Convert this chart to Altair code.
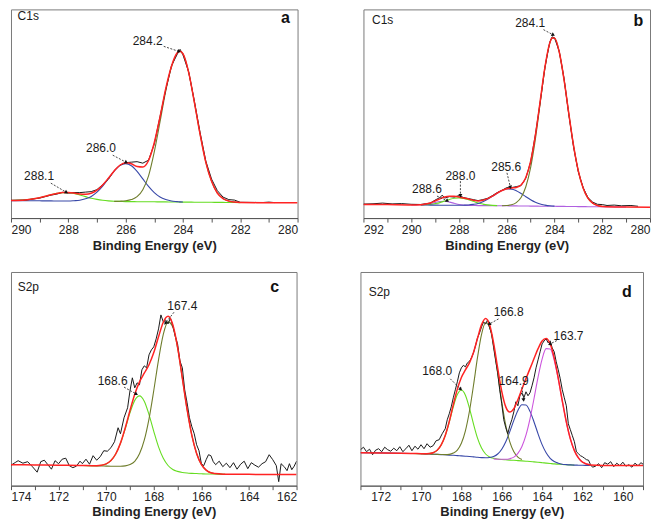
import altair as alt
import pandas as pd

FONT = "Liberation Sans"
RED = "#ff2323"
BLACK = "#1a1a1a"
LIME = "#66dd22"
OLIVE = "#6f7d2c"
BLUE = "#3848a8"
PURPLE = "#b060e0"
MAGENTA = "#cc55dd"

# ---------------- panel a : C1s ----------------
A_X = [290, 289.5, 289, 288.8, 288.6, 288.4, 288.2, 288.0, 287.8, 287.6, 287.4, 287.2, 287.0,
       286.8, 286.6, 286.4, 286.2, 286.0, 285.8, 285.6, 285.4, 285.2, 285.0, 284.8, 284.6,
       284.4, 284.2, 284.1, 284.0, 283.8, 283.6, 283.4, 283.2, 283.0, 282.8, 282.6, 282.4,
       282.2, 282.0, 281.0, 280.0]
A_RED = [17.6, 18.2, 20.4, 21.8, 23.4, 24.7, 25.5, 25.5, 25.0, 24.1, 23.9, 24.8, 27.9, 33.2,
         40.0, 47.2, 52.9, 55.3, 54.4, 51.7, 51.2, 57.7, 75.5, 101.1, 129.6, 152.1, 165.5,
         167.2, 164.6, 146.0, 115.9, 83.9, 55.8, 36.8, 25.1, 19.5, 17.0, 16.0, 15.6, 15.4, 15.3]
A_GREEN = [17.6, 18.2, 20.4, 21.8, 23.4, 24.7, 25.5, 25.4, 24.6, 23.1, 21.5, 19.9, 18.7, 17.8,
           17.2, 16.8, 16.7, 16.5, 16.5, 16.4, 16.4, 16.3, 16.3, 16.2, 16.2, 16.1, 16.1, 16.0,
           16.0, 16.0, 15.9, 15.9, 15.8, 15.8, 15.7, 15.7, 15.6, 15.6, 15.5, None, None]
A_BLUE = [17.5, 17.4, 17.3, 17.2, 17.2, 17.1, 17.1, 17.1, 17.4, 17.9, 19.3, 21.7, 26.0, 32.1,
          39.5, 46.9, 52.5, 54.5, 52.4, 46.7, 39.2, 31.7, 25.5, 21.1, 18.6, 17.1, 16.5, 16.2,
          16.1, None, None, None, None, None, None, None, None, None, None, None, None]
A_OLIVE = [None] * 15 + [16.7, 16.9, 17.3, 18.5, 21.4, 28.4, 42.3, 66.3, 96.2, 127.2, 151.1,
                         165.1, 167.0, 164.5, 146.0, 115.9, 83.9, 55.8, 36.8, 25.1, 19.5,
                         17.0, 16.0, 15.6, None, None]
A_DATA_X = [290, 289.5, 289, 288.8, 288.6, 288.4, 288.2, 288.0, 287.8, 287.6, 287.4, 287.2,
            287.0, 286.8, 286.6, 286.4, 286.2, 286.0, 285.8, 285.6, 285.4, 285.2, 285.0, 284.8,
            284.6, 284.4, 284.2, 284.1, 284.0, 283.8, 283.6, 283.4, 283.2, 283.0, 282.8, 282.6,
            282.4, 282.2, 282.0, 281.2, 281.0, 280.8]
A_DATA_Y = [17.8, 18.0, 20.0, 21.5, 23.0, 24.0, 25.8, 25.0, 25.6, 25.5, 26.0, 26.5, 28.5, 33.5,
            39.0, 47.5, 53.0, 55.5, 56.0, 56.5, 55.0, 58.0, 74.0, 101.5, 128.5, 152.5, 164.0,
            169.0, 163.5, 146.5, 117.0, 85.5, 57.0, 39.0, 27.5, 21.0, 18.5, 18.0, 15.8, 15.6,
            16.0, 15.5]
A_PEAK_TEXT = ["284.2", "286.0", "288.1"]
A_PEAK_TX = [285.23, 286.86, 289.02]
A_PEAK_TY = [177, 70, 42]
A_ARR_X = [284.67, 286.45, 288.61]
A_ARR_Y = [172, 63, 35]
A_ARR_X2 = [284.15, 285.99, 288.08]
A_ARR_Y2 = [167, 56, 26]
A_ARR_ANG = [108, 118, 121]

# ---------------- panel b : C1s ----------------
B_X = [292, 291, 290, 289.6, 289.4, 289.2, 289.0, 288.8, 288.6, 288.4, 288.2, 288.0, 287.8,
       287.6, 287.4, 287.2, 287.0, 286.8, 286.6, 286.4, 286.2, 286.0, 285.8, 285.6, 285.4,
       285.2, 285.0, 284.8, 284.6, 284.4, 284.2, 284.1, 284.0, 283.8, 283.6, 283.4, 283.2,
       283.0, 282.8, 282.6, 282.4, 282.2, 282.0, 281.0, 280.0]
B_RED = [13.7, 13.5, 13.2, 13.4, 14.0, 15.1, 17.1, 19.2, 21.1, 21.8, 21.8, 21.2, 20.2, 19.0,
         17.9, 17.2, 17.8, 19.5, 22.0, 25.0, 27.6, 29.4, 30.1, 30.7, 33.1, 40.7, 56.8, 82.9,
         116.9, 151.2, 175.2, 180.4, 180.4, 166.3, 138.6, 104.6, 72.4, 47.0, 30.1, 20.0, 15.0,
         12.6, 11.7, 11.1, 10.8]
B_PURPLE = [None, None, 13.2, 13.3, 13.7, 14.4, 15.6, 16.6, 16.9, 16.0, 14.8, 13.6, 13.0, 12.7,
            12.6, 12.5, 12.5, 12.5, 12.4, 12.4, 12.3, 12.3, 12.2, 12.2, 12.1, 12.1, 12.0, 12.0,
            11.9, 11.9, 11.8, 11.8, 11.8, 11.7, 11.7, 11.6, 11.6, 11.5, 11.5, 11.4, 11.4, 11.3,
            11.3, 11.1, None]
B_GREEN = [None] * 3 + [13.2, 13.4, 13.7, 14.5, 15.5, 17.1, 18.6, 19.8, 20.2, 19.7, 18.4, 16.8,
                        15.1, 14.0, 13.2, 12.7, 12.5] + [None] * 25
B_BLUE = [None] * 3 + [13.1, 13.1, 13.0, 13.0, 12.9, 12.9, 12.8, 12.8, 12.8, 12.9, 13.1, 13.7,
                       14.6, 16.3, 18.8, 21.7, 24.9, 27.5, 29.1, 29.0, 27.4, 24.6, 21.4, 18.3,
                       15.8, 14.0, 13.0, 12.3, 12.1, 12.0] + [None] * 12
B_OLIVE = [None] * 20 + [12.4, 12.6, 13.3, 15.5, 20.6, 31.4, 50.5, 79.1, 114.8, 150.1, 174.7,
                         180.1, 180.2, 166.3, 138.6, 104.6, 72.4, 47.0, 30.1, 20.0, 15.0, 12.6,
                         11.7] + [None] * 2
B_DATA_X = [292, 291.6, 291.2, 290.8, 290.4, 290, 289.6, 289.4, 289.2, 289.0, 288.8, 288.7,
            288.6, 288.4, 288.2, 288.0, 287.8, 287.6, 287.4, 287.2, 287.0, 286.8, 286.6, 286.4,
            286.2, 286.0, 285.8, 285.6, 285.4, 285.2, 285.0, 284.8, 284.6, 284.4, 284.2, 284.1,
            284.0, 283.8, 283.6, 283.4, 283.2, 283.0, 282.8, 282.6, 282.4, 282.2, 282.0, 281.8,
            281.5, 281.2, 280.8, 280.5]
B_DATA_Y = [14.0, 14.3, 15.0, 14.2, 14.5, 13.8, 13.6, 14.3, 15.0, 18.0, 20.5, 23.0, 20.0, 21.5,
            21.0, 22.5, 20.5, 19.5, 18.5, 17.5, 18.5, 19.8, 22.5, 25.5, 27.8, 30.5, 30.5, 31.5,
            32.5, 40.0, 56.0, 83.5, 116.0, 151.0, 176.0, 181.5, 180.5, 167.0, 140.0, 103.5,
            71.0, 46.0, 30.5, 20.5, 16.0, 13.8, 13.5, 12.6, 13.0, 12.3, 12.6, 11.8]
B_PEAK_TEXT = ["284.1", "285.6", "288.0", "288.6"]
B_PEAK_TX = [285.02, 286.02, 287.94, 289.34]
B_PEAK_TY = [195.3, 51, 42, 28.7]
B_ARR_X = [284.46, 285.99, 287.94, 288.92]
B_ARR_Y = [188.7, 45.3, 37, 22]
B_ARR_X2 = [284.07, 285.85, 287.94, 288.5]
B_ARR_Y2 = [183.7, 31.3, 23, 17.5]
B_ARR_ANG = [118, 168, 180, 121]

# ---------------- panel c : S2p ----------------
C_X = [174, 173, 172, 171, 170.6, 170.2, 170.0, 169.8, 169.6, 169.4, 169.2, 169.0, 168.8,
       168.6, 168.4, 168.2, 168.0, 167.8, 167.6, 167.4, 167.2, 167.0, 166.8, 166.6, 166.4,
       166.2, 166.0, 165.8, 165.6, 165.2, 165.0, 164, 163, 162]
C_RED = [21.0, 20.8, 20.5, 20.2, 19.9, 20.5, 21.8, 25.1, 31.7, 42.6, 57.8, 75.3, 91.5, 103.9,
         112.6, 121.1, 133.3, 149.1, 163.7, 169.6, 161.1, 138.8, 107.8, 76.3, 50.3, 32.2,
         21.3, 15.6, 13.0, 11.7, 11.4, 11.3, 11.2, 11.1]
C_GREEN = [None] * 3 + [20.2, 19.9, 20.5, 21.8, 25.1, 31.6, 42.3, 57.0, 72.9, 85.4, 89.9,
                        84.6, 71.2, 54.4, 38.9, 27.4, 20.2, 16.2, 14.3, 13.2, 12.6, 12.3,
                        12.1, 11.9, 11.7, 11.6, 11.5, 11.4] + [None] * 3
C_OLIVE = [None] * 3 + [20.2, 19.9, 19.7, 19.6, 19.5, 19.5, 19.5, 19.8, 21.1, 24.4, 31.9,
                        45.5, 66.9, 95.3, 126.0, 151.5, 164.0, 158.9, 138.0, 107.6, 76.3,
                        50.3, 32.2, 21.3, 15.6, 13.0, 11.7, 11.4] + [None] * 3
C_DATA_X = [174.0, 173.8, 173.7, 173.5, 173.3, 173.1, 172.9, 172.75, 172.6, 172.45, 172.3,
            172.15, 172.0, 171.85, 171.7, 171.55, 171.4, 171.25, 171.1, 171.0, 170.85, 170.7,
            170.55, 170.4, 170.25, 170.1, 169.95, 169.8, 169.65, 169.5, 169.4, 169.25, 169.1,
            169.0, 168.9, 168.8, 168.7, 168.6, 168.5, 168.4, 168.3, 168.2, 168.1, 168.0, 167.9,
            167.8, 167.7, 167.6, 167.5, 167.4, 167.3, 167.2, 167.1, 167.0, 166.9, 166.8, 166.7,
            166.6, 166.5, 166.4, 166.3, 166.2, 166.1, 166.0, 165.9, 165.8, 165.7, 165.6, 165.5,
            165.4, 165.25, 165.1, 164.95, 164.8, 164.65, 164.5, 164.35, 164.2, 164.05, 163.9,
            163.75, 163.6, 163.45, 163.3, 163.15, 163.0, 162.85, 162.75, 162.65, 162.5, 162.4,
            162.3, 162.2, 162.1, 162.0]
C_DATA_Y = [20.5, 23.5, 25.0, 22.5, 24.0, 19.0, 13.5, 24.0, 25.5, 21.0, 16.5, 25.0, 22.0,
            26.5, 27.5, 20.0, 18.0, 19.5, 24.5, 22.0, 26.5, 21.5, 30.0, 25.5, 29.0, 35.0,
            34.5, 38.0, 44.0, 58.0, 52.0, 68.0, 78.0, 95.0, 108.0, 98.0, 103.0, 101.0, 116.0,
            120.0, 118.0, 131.0, 136.0, 139.0, 147.0, 157.0, 171.0, 164.0, 166.0, 162.0, 168.0,
            160.0, 150.0, 142.0, 125.0, 118.0, 96.0, 83.0, 68.0, 59.0, 52.0, 41.0, 35.0, 22.0,
            20.0, 26.0, 31.0, 30.0, 24.0, 21.0, 24.5, 19.0, 22.5, 18.0, 23.0, 16.5, 21.5, 24.5,
            17.0, 23.0, 20.5, 18.5, 22.0, 24.0, 31.0, 26.0, 20.0, 4.0, 22.0, 18.5, 15.0, 22.0,
            16.0, 19.5, 24.5]
C_PEAK_TEXT = ["167.4", "168.6"]
C_PEAK_TX = [166.8, 169.73]
C_PEAK_TY = [180.3, 105.3]
C_ARR_X = [167.15, 169.25]
C_ARR_Y = [173.7, 98.7]
C_ARR_X2 = [167.5, 168.75]
C_ARR_Y2 = [163, 92]
C_ARR_ANG = [215, 120]

# ---------------- panel d : S2p ----------------
D_X = [173, 172, 171, 170.4, 170.0, 169.8, 169.6, 169.4, 169.2, 169.0, 168.8, 168.6, 168.4,
       168.2, 168.0, 167.8, 167.6, 167.4, 167.2, 167.0, 166.8, 166.6, 166.4, 166.2, 166.0,
       165.8, 165.6, 165.4, 165.2, 165.0, 164.8, 164.6, 164.4, 164.2, 164.0, 163.8, 163.6,
       163.4, 163.2, 163.0, 162.8, 162.6, 162.4, 162.2, 162.0, 161.6, 161.0, 160.0, 159.0]
D_RED = [33.0, 32.8, 32.5, 32.2, 32.0, 31.9, 32.2, 33.0, 35.4, 40.8, 50.3, 64.3, 81.1, 96.7,
         108.4, 116.0, 123.0, 133.3, 147.6, 161.3, 167.5, 161.1, 142.6, 117.6, 94.5, 78.9,
         73.7, 77.1, 86.1, 96.8, 107.2, 117.2, 127.3, 137.2, 144.9, 147.5, 142.0, 128.0,
         107.8, 85.0, 63.8, 46.9, 35.1, 27.8, 23.6, 20.8, 20.3, 20.2, 20.2]
D_GREEN = [None] * 3 + [32.2, 32.0, 31.9, 32.2, 33.0, 35.4, 40.7, 50.1, 63.6, 78.9, 91.2,
                        95.8, 90.6, 77.7, 61.8, 47.6, 37.6, 31.7, 28.7, 27.3, 26.6, 26.2,
                        25.9, 25.6, 25.4, 25.1, 24.8, 24.5, 24.2, 23.8, 23.4, 23.0, 22.6,
                        22.2, 21.8, 21.5, 21.2, 21.0, 20.8, 20.6] + [None] * 6
D_OLIVE = [None] * 4 + [32.0, 31.8, 31.7, 31.5, 31.3, 31.2, 31.1, 31.3, 32.6, 35.6, 42.4,
                        54.9, 74.5, 100.3, 128.4, 151.6, 163.1, 158.6, 139.7, 112.3, 84.0,
                        60.3, 43.8, 33.9, 28.6, 26.1] + [None] * 19
D_BLUE = [33.0, 32.8, 32.5, 32.2, 32.0, 31.8, 31.7, 31.5, 31.3, 31.1, 30.9, 30.6, 30.4, 30.1,
          29.8, 29.5, 29.2, 28.8, 28.4, 28.1, 27.9, 28.2, 29.2, 31.7, 36.5, 44.0, 54.1, 65.4,
          75.3, 81.0, 80.7, 74.4, 63.8, 51.9, 41.1, 32.9, 27.4, 24.2, 22.5, 21.5, 21.1, 20.8,
          20.6, 20.5, 20.4, 20.3, None, None, None]
D_MAGENTA = [None] * 22 + [26.8, 26.5, 26.4, 26.4, 27.0, 28.6, 32.4, 39.3, 50.6, 66.9, 87.3,
                           108.7, 126.8, 137.2, 136.8, 125.6, 106.8, 84.7, 63.7, 46.9, 35.1,
                           27.8, 23.6, 20.8] + [None] * 3
D_DATA_X = [173.0, 172.85, 172.7, 172.55, 172.4, 172.25, 172.1, 171.95, 171.8, 171.65, 171.5,
            171.35, 171.2, 171.05, 170.9, 170.75, 170.6, 170.45, 170.3, 170.15, 170.0, 169.85,
            169.7, 169.55, 169.4, 169.25, 169.1, 168.95,
            168.8, 168.7, 168.6, 168.5, 168.4, 168.3, 168.2, 168.1, 168.0, 167.9,
            167.8, 167.7, 167.6, 167.5, 167.4, 167.3, 167.2, 167.1, 167.0, 166.9,
            166.8, 166.7, 166.6, 166.5, 166.4, 166.3, 166.2, 166.1, 166.0, 165.9,
            165.8, 165.7, 165.6, 165.5, 165.4, 165.3, 165.2, 165.1, 165.0, 164.9,
            164.8, 164.7, 164.6, 164.5, 164.4, 164.3, 164.2, 164.1, 164.0, 163.9,
            163.8, 163.7, 163.6, 163.5, 163.4, 163.3, 163.2, 163.1, 163.0, 162.9,
            162.8, 162.7, 162.6, 162.5, 162.4, 162.3, 162.2, 162.1, 162.0, 161.9,
            161.8, 161.7, 161.6, 161.5,
            161.35, 161.2, 161.05, 160.9, 160.75, 160.6, 160.45, 160.3, 160.15, 160.0, 159.85,
            159.7, 159.55, 159.4, 159.25, 159.1, 159.0]
D_DATA_Y = [36.0, 38.5, 34.0, 36.5, 31.0, 35.5, 37.0, 34.0, 38.5, 36.0, 34.5, 37.5, 35.0, 39.0,
            34.0, 37.0, 40.5, 35.0, 39.5, 36.5, 41.0, 37.0, 42.0, 38.5, 40.0, 45.0, 46.0, 52.0,
            57.0, 66.0, 72.0, 79.0, 88.0, 96.0, 104.0, 113.0, 118.0, 120.5,
            119.0, 123.0, 124.5, 128.0, 133.0, 140.0, 148.0, 153.0, 159.0, 164.0,
            162.0, 166.0, 158.0, 152.0, 138.0, 125.0, 113.0, 96.0, 82.0, 66.0,
            58.0, 52.0, 60.0, 66.0, 74.0, 84.0, 80.0, 90.0, 93.0, 88.0,
            94.0, 90.0, 93.0, 100.0, 108.0, 118.0, 126.0, 134.0, 142.0, 145.0,
            147.0, 143.0, 145.0, 138.0, 134.0, 124.0, 116.0, 107.0, 96.0, 88.0,
            80.0, 62.0, 56.0, 50.0, 44.0, 34.0, 32.0, 30.0, 29.0, 27.5,
            26.0, 25.5, 21.0, 18.5,
            19.5, 22.0, 18.0, 23.0, 21.5, 24.0, 19.0, 22.5, 20.0, 23.5, 19.5, 21.0, 18.5, 22.5,
            20.0, 23.0, 21.5]
D_PEAK_TEXT = ["166.8", "168.0", "164.9", "163.7"]
D_PEAK_TX = [165.66, 169.2, 165.41, 162.69]
D_PEAK_TY = [173.7, 115.3, 104.7, 150.3]
D_ARR_X = [166.16, 168.55, 165.0, 163.27]
D_ARR_Y = [167, 107, 98.7, 145.3]
D_ARR_X2 = [166.6, 168.05, 164.92, 163.6]
D_ARR_Y2 = [162, 97, 86.3, 142]
D_ARR_ANG = [241, 135, 173, 244]

# panel tags: (element label, x, y, letter, letter x, letter y)
TAGS = {
    "a": ("C1s", 289.77, 202, "a", 280.42, 200),
    "b": ("C1s", 291.64, 198.7, "b", 280.49, 197.7),
    "c": ("S2p", 173.72, 198.7, "c", 162.92, 198.7),
    "d": ("S2p", 172.59, 193.7, "d", 159.8, 193.7),
}

assert len(A_DATA_X) == len(A_DATA_Y) and len(B_DATA_X) == len(B_DATA_Y)
assert len(C_DATA_X) == len(C_DATA_Y) and len(D_DATA_X) == len(D_DATA_Y)
for xs_, lists in [(A_X, [A_RED, A_GREEN, A_BLUE, A_OLIVE]),
                   (B_X, [B_RED, B_PURPLE, B_GREEN, B_BLUE, B_OLIVE]),
                   (C_X, [C_RED, C_GREEN, C_OLIVE]),
                   (D_X, [D_RED, D_GREEN, D_OLIVE, D_BLUE, D_MAGENTA])]:
    for l in lists:
        assert len(l) == len(xs_), (len(l), len(xs_))


def panel(fit_x, comps, red, data_x, data_y, xdom, ticks, ymax, w, h,
          ptext, ptx, pty, ax, ay, ax2, ay2, aang, tag, title_pad):
    xs = alt.Scale(domain=xdom, reverse=True, nice=False, zero=False)
    ys = alt.Scale(domain=[0, ymax], nice=False, zero=False)
    axis = alt.Axis(values=ticks, labelExpr="datum.value % 2 === 0 ? datum.label : ''",
                    format="d", grid=False, tickSize=4, labelPadding=2,
                    labelFontSize=12, labelFont=FONT, labelColor="#222",
                    titleFont=FONT, titleFontSize=13, titleFontWeight="bold",
                    titleColor="#222", titlePadding=title_pad, domainColor="#555",
                    tickColor="#555", labelFlush=True, labelOverlap=False)

    def X(f):
        return alt.X(f, type="quantitative", scale=xs, axis=axis,
                     title="Binding Energy (eV)")

    def Y(f):
        return alt.Y(f, type="quantitative", scale=ys, axis=None)

    layers = []
    for ys_list, color, sw in comps:
        df = pd.DataFrame({"x": fit_x, "y": ys_list}).dropna()
        layers.append(alt.Chart(df).mark_line(color=color, strokeWidth=sw,
                                              interpolate="monotone", clip=True)
                      .encode(x=X("x"), y=Y("y"),
                              order=alt.Order("x", sort="descending")))
    ddf = pd.DataFrame({"x": data_x, "y": data_y})
    layers.append(alt.Chart(ddf).mark_line(color=BLACK, strokeWidth=1.0, clip=True)
                  .encode(x=X("x"), y=Y("y"), order=alt.Order("x", sort="descending")))
    rdf = pd.DataFrame({"x": fit_x, "y": red})
    layers.append(alt.Chart(rdf).mark_line(color=RED, strokeWidth=1.5,
                                           interpolate="monotone", clip=True)
                  .encode(x=X("x"), y=Y("y"), order=alt.Order("x", sort="descending")))
    # peak labels
    tdf = pd.DataFrame({"t": ptext, "x": ptx, "y": pty})
    layers.append(alt.Chart(tdf).mark_text(font=FONT, fontSize=12, color="#1a1a1a")
                  .encode(x=X("x"), y=Y("y"), text="t:N"))
    adf = pd.DataFrame({"x": ax, "y": ay, "x2": ax2, "y2": ay2, "ang": aang})
    layers.append(alt.Chart(adf).mark_rule(color="#333", strokeWidth=0.9, strokeDash=[2, 1.5])
                  .encode(x=X("x"), y=Y("y"), x2="x2:Q", y2="y2:Q"))
    layers.append(alt.Chart(adf).mark_point(shape="triangle", filled=True, size=16,
                                            color="#111", opacity=1)
                  .encode(x=X("x2"), y=Y("y2"), angle=alt.Angle("ang:Q", scale=None)))
    el, elx, ely, let, lx, ly = tag
    edf = pd.DataFrame({"t": [el], "x": [elx], "y": [ely]})
    layers.append(alt.Chart(edf).mark_text(font=FONT, fontSize=12, color="#1a1a1a",
                                           align="left")
                  .encode(x=X("x"), y=Y("y"), text="t:N"))
    ldf = pd.DataFrame({"t": [let], "x": [lx], "y": [ly]})
    layers.append(alt.Chart(ldf).mark_text(font=FONT, fontSize=16, fontWeight="bold",
                                           color="#111")
                  .encode(x=X("x"), y=Y("y"), text="t:N"))
    return alt.layer(*layers).properties(width=w, height=h)


pa = panel(A_X, [(A_GREEN, LIME, 1.1), (A_BLUE, BLUE, 1.1), (A_OLIVE, OLIVE, 1.1)], A_RED,
           A_DATA_X, A_DATA_Y, [280, 290], list(range(280, 291)), 209, 287, 209,
           A_PEAK_TEXT, A_PEAK_TX, A_PEAK_TY, A_ARR_X, A_ARR_Y, A_ARR_X2, A_ARR_Y2, A_ARR_ANG,
           TAGS["a"], 4)
pb = panel(B_X, [(B_PURPLE, PURPLE, 1.1), (B_GREEN, LIME, 1.1), (B_BLUE, BLUE, 1.1),
                 (B_OLIVE, OLIVE, 1.1)], B_RED,
           B_DATA_X, B_DATA_Y, [280, 292], list(range(280, 293)), 209, 287, 209,
           B_PEAK_TEXT, B_PEAK_TX, B_PEAK_TY, B_ARR_X, B_ARR_Y, B_ARR_X2, B_ARR_Y2, B_ARR_ANG,
           TAGS["b"], 4)
pc = panel(C_X, [(C_GREEN, LIME, 1.1), (C_OLIVE, OLIVE, 1.1)], C_RED,
           C_DATA_X, C_DATA_Y, [162, 174], list(range(162, 175)), 214, 286, 214,
           C_PEAK_TEXT, C_PEAK_TX, C_PEAK_TY, C_ARR_X, C_ARR_Y, C_ARR_X2, C_ARR_Y2, C_ARR_ANG,
           TAGS["c"], 3)
pd_ = panel(D_X, [(D_GREEN, LIME, 1.1), (D_BLUE, BLUE, 1.1), (D_OLIVE, OLIVE, 1.1),
                  (D_MAGENTA, MAGENTA, 1.1)], D_RED,
            D_DATA_X, D_DATA_Y, [159, 173], list(range(159, 174)), 214, 283, 214,
            D_PEAK_TEXT, D_PEAK_TX, D_PEAK_TY, D_ARR_X, D_ARR_Y, D_ARR_X2, D_ARR_Y2, D_ARR_ANG,
            TAGS["d"], 3)

row1 = alt.hconcat(pa, pb, spacing=66, bounds="flush")
row2 = alt.hconcat(pc, pd_, spacing=64, bounds="flush")
chart = (alt.vconcat(row1, row2, spacing=18)
         .properties(padding={"left": 2, "top": 0, "right": 2, "bottom": 0},
                     background="white")
         .configure_view(stroke="#7a7a7a", strokeWidth=1))

chart.save("out.html", embed_options={"renderer": "svg", "actions": False})
